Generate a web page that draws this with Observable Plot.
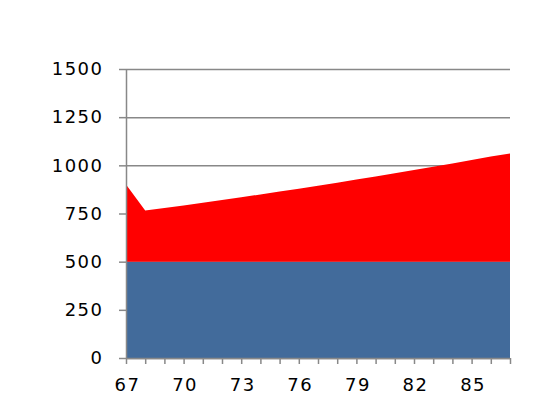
<!DOCTYPE html>
<html>
<head>
<meta charset="utf-8">
<script src="https://cdn.jsdelivr.net/npm/d3@7"></script>
<script src="https://cdn.jsdelivr.net/npm/@observablehq/plot@0.6"></script>
<style>
  html, body { margin: 0; padding: 0; background: #fff; }
  svg text { letter-spacing: 1.5px; }
</style>
</head>
<body>
<div id="chart"></div>
<script>
const years = [67,68,69,70,71,72,73,74,75,76,77,78,79,80,81,82,83,84,85,86,87];
const baseValues = [500,500,500,500,500,500,500,500,500,500,500,500,500,500,500,500,500,500,500,500,500];
const topValues = [400,265,278,292,306,320,334,349,364,379,394,410,426,442,459,476,493,510,528,546,562];
const seriesNames = ["base", "top"];
const seriesColors = ["#426B9B", "#FF0000"];
const xLabelTicks = [67,70,73,76,79,82,85];
const yTicks = [0,250,500,750,1000,1250,1500];

const rows = [];
years.forEach((y, i) => {
  rows.push({year: y, series: seriesNames[0], value: baseValues[i]});
  rows.push({year: y, series: seriesNames[1], value: topValues[i]});
});

const gray = "#888888";

const chart = Plot.plot({
  width: 543,
  height: 405,
  marginLeft: 126,
  marginRight: 33,
  marginTop: 69,
  marginBottom: 47,
  style: {fontFamily: "'DejaVu Sans', sans-serif", fontSize: "18px", color: "#000", background: "#fff", overflow: "visible"},
  x: {domain: [67, 87]},
  y: {domain: [0, 1500]},
  color: {domain: seriesNames, range: seriesColors},
  marks: [
    Plot.gridY(yTicks, {stroke: gray, strokeOpacity: 1, strokeWidth: 1.5}),
    Plot.areaY(rows, {x: "year", y: "value", fill: "series", order: seriesNames, curve: "linear"}),
    Plot.ruleX([67], {stroke: gray, strokeWidth: 1.5}),
    Plot.ruleY([0], {stroke: gray, strokeWidth: 1.5}),
    Plot.axisY(yTicks, {tickSize: 7, tickPadding: 16, tickFormat: d => String(d), stroke: gray, strokeWidth: 1.5, fill: "#000", label: null}),
    Plot.axisX(years, {tickSize: 6, tickFormat: () => "", stroke: gray, strokeWidth: 1.5, label: null}),
    Plot.axisX(xLabelTicks, {tickSize: 0, tickPadding: 20, dx: 1, tickFormat: d => String(d), fill: "#000", label: null})
  ]
});
document.getElementById("chart").appendChild(chart);
</script>
</body>
</html>
